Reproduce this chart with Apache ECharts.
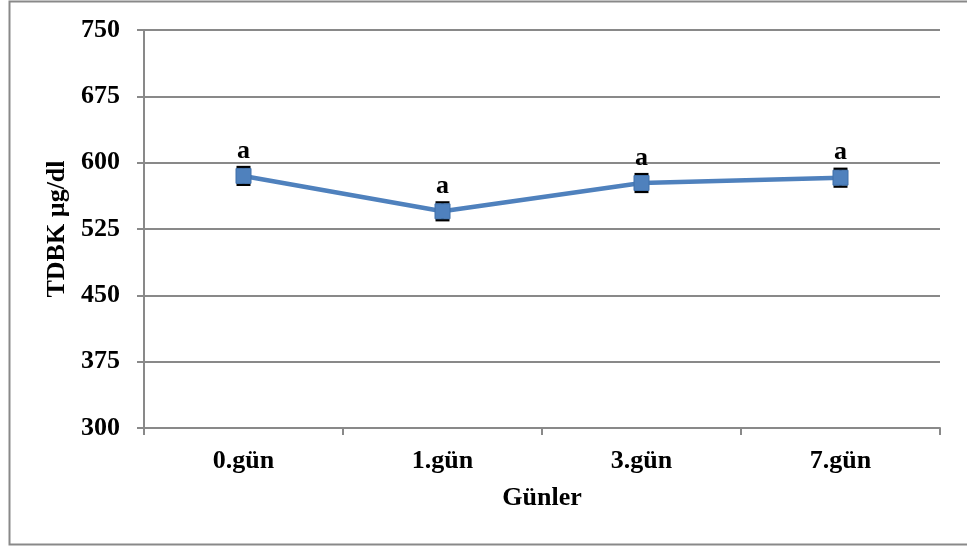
<!DOCTYPE html>
<html>
<head>
<meta charset="utf-8">
<script src="https://cdn.jsdelivr.net/npm/echarts@6/dist/echarts.min.js"></script>
<style>
  html, body { margin: 0; padding: 0; background: #fff; }
  #chart { width: 967px; height: 546px; }
</style>
</head>
<body>
<div id="chart"></div>
<script>
// veriler
const categories = ['0.gün', '1.gün', '3.gün', '7.gün']
const means = [585, 545, 577, 583]
const errors = [10, 10, 10, 10]
const letters = ['a', 'a', 'a', 'a']
const yTicks = [300, 375, 450, 525, 600, 675, 750]

const font = 'Liberation Serif, Times New Roman, serif'
const gray = '#898989'

const chart = echarts.init(document.getElementById('chart'))

// hata çubukları
const errorData = categories.map((c, i) => [i, means[i] - errors[i], means[i] + errors[i]])

const option = {
    animation: false,
    graphic: [{
        type: 'rect',
        shape: { x: 9.5, y: 1.5, width: 980, height: 543 },
        style: { fill: 'none', stroke: gray, lineWidth: 2 },
        silent: true
    }],
    grid: { left: 144, top: 30, right: 27, bottom: 118 },
    xAxis: {
        type: 'category',
        data: categories,
        boundaryGap: true,
        name: 'Günler',
        nameLocation: 'middle',
        nameGap: 57,
        nameTextStyle: { fontFamily: font, fontWeight: 'bold', fontSize: 26, color: '#000' },
        axisLine: { lineStyle: { color: gray, width: 2 } },
        axisTick: { show: true, alignWithLabel: false, length: 7, lineStyle: { color: gray, width: 2 } },
        axisLabel: { fontFamily: font, fontWeight: 'bold', fontSize: 26, color: '#000', margin: 20 }
    },
    yAxis: {
        type: 'value',
        min: yTicks[0],
        max: yTicks[yTicks.length - 1],
        interval: 75,
        name: 'TDBK µg/dl',
        nameLocation: 'middle',
        nameGap: 71,
        nameTextStyle: { fontFamily: font, fontWeight: 'bold', fontSize: 26, color: '#000' },
        axisLine: { show: true, lineStyle: { color: gray, width: 2 } },
        axisTick: { show: true, length: 7, lineStyle: { color: gray, width: 2 } },
        splitLine: { lineStyle: { color: gray, width: 2 } },
        axisLabel: { fontFamily: font, fontWeight: 'bold', fontSize: 26, color: '#000', margin: 24 }
    },
    series: [
        {
            type: 'custom',
            z: 1,
            data: errorData,
            renderItem: (params, api) => {
                const x = api.coord([api.value(0), 0])[0]
                const lo = api.coord([api.value(0), api.value(1)])[1]
                const hi = api.coord([api.value(0), api.value(2)])[1]
                const w = 7
                const style = { stroke: '#000', lineWidth: 2.5 }
                return {
                    type: 'group',
                    children: [
                        { type: 'line', shape: { x1: x, y1: lo, x2: x, y2: hi }, style },
                        { type: 'line', shape: { x1: x - w, y1: lo, x2: x + w, y2: lo }, style },
                        { type: 'line', shape: { x1: x - w, y1: hi, x2: x + w, y2: hi }, style }
                    ]
                }
            }
        },
        {
            type: 'line',
            z: 2,
            data: means,
            symbol: 'rect',
            symbolSize: 15,
            lineStyle: { color: '#4F81BD', width: 4.5 },
            itemStyle: { color: '#4F81BD', borderColor: '#3f6fa8', borderWidth: 1 },
            label: {
                show: true,
                position: 'top',
                distance: 4,
                formatter: p => letters[p.dataIndex],
                fontFamily: font,
                fontWeight: 'bold',
                fontSize: 26,
                color: '#000'
            }
        }
    ]
}

chart.setOption(option)
</script>
</body>
</html>
